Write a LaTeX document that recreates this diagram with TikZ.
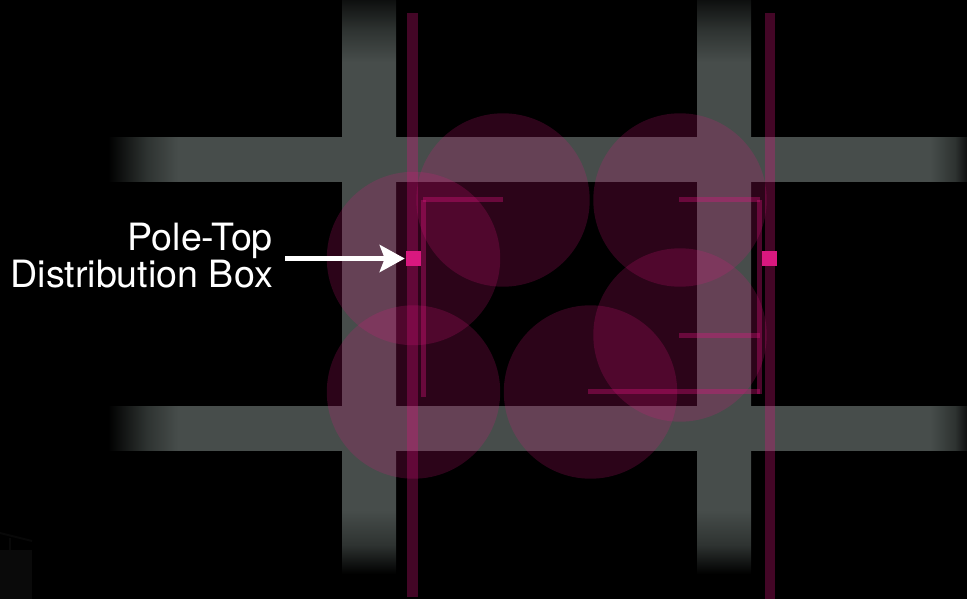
\documentclass[tikz,border=0pt]{standalone}
\usepackage{fontspec}
\setmainfont{TeX Gyre Heros}
\usetikzlibrary{arrows.meta}
\definecolor{road}{HTML}{474D4B}
\definecolor{pink}{HTML}{E01480}
\definecolor{boxpink}{HTML}{D9187F}
\definecolor{roadmid}{HTML}{2E3331}
\colorlet{roadfar}{black!80!road}
\pgfdeclarehorizontalshading{roadh}{100bp}{color(0bp)=(black); color(25bp)=(black); color(27.27bp)=(roadmid); color(29.07bp)=(road); color(72.85bp)=(road); color(74.3bp)=(roadmid); color(75bp)=(roadfar); color(100bp)=(roadfar)}
\pgfdeclareverticalshading{roadv}{100bp}{color(0bp)=(black); color(25bp)=(black); color(27.53bp)=(roadmid); color(30.57bp)=(road); color(69.6bp)=(road); color(72.39bp)=(roadmid); color(75bp)=(roadfar); color(100bp)=(roadfar)}
\tikzset{
  x=1pt,y=-1pt,
  zone/.style={fill=pink,fill opacity=0.2},
  pole/.style={fill=pink,fill opacity=0.3},
  wire/.style={fill=pink,fill opacity=0.35},
  distbox/.style={draw=none,fill=boxpink,minimum size=15.5pt,inner sep=0pt,outer sep=0pt},
  callout/.style={draw=white,line width=5.2pt,-{Stealth[length=25pt,width=27pt,inset=5pt]},shorten >=1pt},
  caption/.style={text=white,align=right,inner sep=0pt,font=\fontsize{37.6}{37}\selectfont}
}
\begin{document}
\begin{tikzpicture}
\useasboundingbox (0,0) rectangle (967,599);
\fill[black] (0,0) rectangle (967,599);
% faint remnant
\fill[color=black!96!white] (0,550) rectangle (32,599);
\draw[color=black!97!white,line width=2pt] (0,533) -- (32,541);
\draw[color=black!97!white,line width=2pt] (10,538) -- (10,550);
% vertical roads
\shade[shading=roadv] (342,0) rectangle (396,574);
\shade[shading=roadv] (697,0) rectangle (751,574);
% horizontal roads
\shade[shading=roadh] (108,137.6) rectangle (967,182);
\shade[shading=roadh] (108,406) rectangle (967,450.6);
% coverage circles
\fill[zone] (503,200) circle[radius=86.7];
\fill[zone] (680,200) circle[radius=86.7];
\fill[zone] (413.5,258.5) circle[radius=86.7];
\fill[zone] (680,335) circle[radius=86.7];
\fill[zone] (413.5,392) circle[radius=86.7];
\fill[zone] (590.5,392) circle[radius=86.7];
% poles
\fill[pole] (407,13) rectangle (418,597);
\fill[pole] (765,13) rectangle (775,599);
% wires
\fill[wire] (423,197) rectangle (503,202);
\fill[wire] (421,200) rectangle (426,397);
\fill[wire] (679,197) rectangle (760,202);
\fill[wire] (757,200) rectangle (762,394);
\fill[wire] (679,333) rectangle (760,338);
\fill[wire] (588,389) rectangle (760,394);
% boxes
\node[distbox] (boxa) at (413.5,258.5) {};
\node[distbox] (boxb) at (769.5,258.5) {};
% label
\node[caption,anchor=base east] (label) at (273,287) {Pole-Top\\Distribution Box};
\coordinate (start) at (285,258.5);
\draw[callout] (start) -- (boxa.west);
\end{tikzpicture}
\end{document}
